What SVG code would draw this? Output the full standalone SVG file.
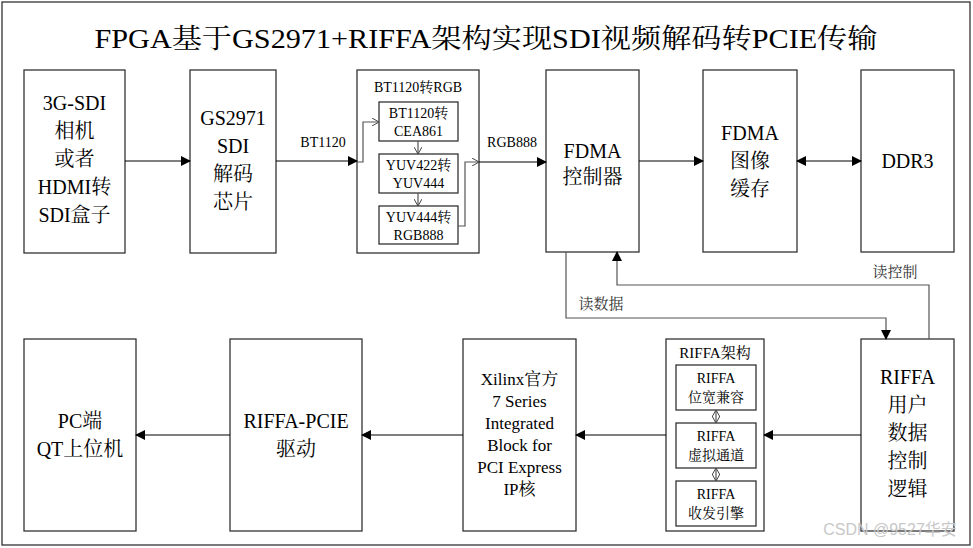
<svg xmlns="http://www.w3.org/2000/svg" width="973" height="548" viewBox="0 0 973 548">
<style>
text{font-family:"Liberation Serif","Noto Serif CJK SC","Noto Sans CJK SC",serif;fill:#000;text-anchor:middle}
.b{fill:#fff;stroke:#333;stroke-width:1.3}
.l{fill:none;stroke:#000;stroke-width:1.2}
.g{fill:none;stroke:#555;stroke-width:1.2}
.t20{font-size:20px}.t13{font-size:13px}.t14{font-size:14px}.t15{font-size:15px}.t17{font-size:17px}
</style>
<defs>
<marker id="a" markerWidth="10" markerHeight="10" refX="9" refY="5" orient="auto" markerUnits="userSpaceOnUse"><path d="M0,0 L10,5 L0,10 Z" fill="#000"/></marker>
<marker id="as" markerWidth="10" markerHeight="10" refX="9" refY="5" orient="auto-start-reverse" markerUnits="userSpaceOnUse"><path d="M0,0 L10,5 L0,10 Z" fill="#000"/></marker>
<marker id="o" markerWidth="8" markerHeight="8" refX="7" refY="4" orient="auto-start-reverse" markerUnits="userSpaceOnUse"><path d="M0,0 L7,4 L0,8" fill="none" stroke="#444"/></marker>
</defs>
<rect x="2" y="2" width="968" height="543" fill="#fff" stroke="#333" stroke-width="1.3"/>
<text x="486" y="48" style="font-size:27px" textLength="783" lengthAdjust="spacingAndGlyphs">FPGA基于GS2971+RIFFA架构实现SDI视频解码转PCIE传输</text>
<g id="n1"><rect class="b" x="24" y="70" width="101" height="183"/><text class="t20" x="74.5" y="110">3G-SDI</text><text class="t20" x="74.5" y="138">相机</text><text class="t20" x="74.5" y="166">或者</text><text class="t20" x="74.5" y="194">HDMI转</text><text class="t20" x="74.5" y="222">SDI盒子</text></g>
<g id="n2"><rect class="b" x="190" y="70" width="86" height="183"/><text class="t20" x="233" y="125">GS2971</text><text class="t20" x="233" y="153">SDI</text><text class="t20" x="233" y="181">解码</text><text class="t20" x="233" y="209">芯片</text></g>
<g id="n3"><rect class="b" x="357" y="70" width="122" height="183"/><text class="t14" x="418" y="92">BT1120转RGB</text>
<rect class="b" x="379" y="102" width="79" height="39"/><text class="t14" x="418.5" y="118">BT1120转</text><text class="t14" x="418.5" y="136">CEA861</text>
<rect class="b" x="379" y="154" width="79" height="39"/><text class="t14" x="418.5" y="170">YUV422转</text><text class="t14" x="418.5" y="188">YUV444</text>
<rect class="b" x="379" y="206" width="79" height="38"/><text class="t14" x="418.5" y="222">YUV444转</text><text class="t14" x="418.5" y="240">RGB888</text></g>
<g id="n4"><rect class="b" x="546" y="70" width="93" height="182"/><text class="t20" x="592.5" y="158">FDMA</text><text class="t20" x="592.5" y="184">控制器</text></g>
<g id="n5"><rect class="b" x="703" y="70" width="94" height="182"/><text class="t20" x="750" y="140">FDMA</text><text class="t20" x="750" y="168">图像</text><text class="t20" x="750" y="196">缓存</text></g>
<g id="n6"><rect class="b" x="861" y="70" width="93" height="182"/><text class="t20" x="907.5" y="168">DDR3</text></g>
<g id="n7"><rect class="b" x="24" y="339" width="112" height="192"/><text class="t20" x="80" y="428">PC端</text><text class="t20" x="80" y="456">QT上位机</text></g>
<g id="n8"><rect class="b" x="230" y="339" width="132" height="192"/><text class="t20" x="296" y="428">RIFFA-PCIE</text><text class="t20" x="296" y="456">驱动</text></g>
<g id="n9"><rect class="b" x="463" y="339" width="113" height="192"/><text class="t17" x="519.5" y="385">Xilinx官方</text><text class="t17" x="519.5" y="407">7 Series</text><text class="t17" x="519.5" y="429">Integrated</text><text class="t17" x="519.5" y="451">Block for</text><text class="t17" x="519.5" y="473">PCI Express</text><text class="t17" x="519.5" y="495">IP核</text></g>
<g id="n10"><rect class="b" x="666" y="339" width="98" height="192"/><text class="t15" x="715" y="358">RIFFA架构</text>
<rect class="b" x="676" y="365" width="80" height="45"/><text class="t14" x="716" y="383">RIFFA</text><text class="t14" x="716" y="402">位宽兼容</text>
<rect class="b" x="676" y="423" width="80" height="45"/><text class="t14" x="716" y="441">RIFFA</text><text class="t14" x="716" y="460">虚拟通道</text>
<rect class="b" x="676" y="481" width="80" height="45"/><text class="t14" x="716" y="499">RIFFA</text><text class="t14" x="716" y="518">收发引擎</text></g>
<g id="n11"><rect class="b" x="861" y="339" width="93" height="192"/><text class="t20" x="907.5" y="384">RIFFA</text><text class="t20" x="907.5" y="412">用户</text><text class="t20" x="907.5" y="440">数据</text><text class="t20" x="907.5" y="468">控制</text><text class="t20" x="907.5" y="496">逻辑</text></g>
<g id="connectors">
<path class="l" d="M125,161 H190" marker-end="url(#a)"/>
<path class="l" d="M276,161 H357" marker-end="url(#a)"/>
<text class="t14" x="323" y="147">BT1120</text>
<path class="g" d="M357,162 H363 V122 H379" marker-end="url(#o)"/>
<path class="g" d="M418,141 V154" marker-end="url(#o)"/>
<path class="g" d="M418,193 V206" marker-end="url(#o)"/>
<path class="g" d="M458,226 H465 V162 H479" marker-end="url(#o)"/>
<path class="l" d="M479,162 H546" marker-end="url(#a)"/>
<text class="t14" x="512" y="147">RGB888</text>
<path class="l" d="M639,161 H703" marker-end="url(#a)"/>
<path class="l" d="M797,161 H861" marker-start="url(#as)" marker-end="url(#a)"/>
<path class="g" d="M929,339 V285 H617 V252" marker-end="url(#a)"/>
<text class="t15" x="895" y="277" style="fill:#333">读控制</text>
<path class="g" d="M566,252 V318 H886 V339" marker-end="url(#a)"/>
<text class="t15" x="601" y="309" style="fill:#333">读数据</text>
<path class="l" d="M861,435 H764" marker-end="url(#a)"/>
<path class="l" d="M666,435 H576" marker-end="url(#a)"/>
<path class="l" d="M463,435 H362" marker-end="url(#a)"/>
<path class="l" d="M230,435 H136" marker-end="url(#a)"/>
<path class="g" d="M716,410 V423" marker-start="url(#o)" marker-end="url(#o)"/>
<path class="g" d="M716,468 V481" marker-start="url(#o)" marker-end="url(#o)"/>
</g>
<text x="890" y="535" style="font-size:16px;fill:#c8c8c8;font-family:'Liberation Sans','Noto Sans CJK SC',sans-serif">CSDN @9527华安</text>
</svg>
